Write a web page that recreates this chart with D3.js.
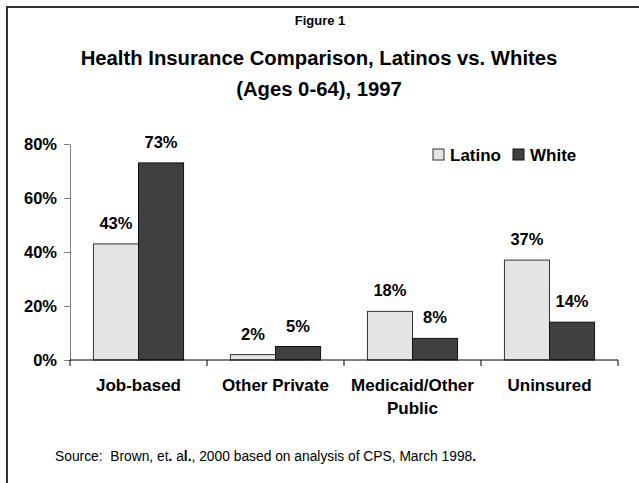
<!DOCTYPE html>
<html><head><meta charset="utf-8">
<script src="https://cdn.jsdelivr.net/npm/d3@7"></script>
<style>body{margin:0;background:#fff}svg{display:block}text{font-family:"Liberation Sans",Arial,sans-serif}</style>
</head><body><svg id="c" width="639" height="483"></svg>
<script>
const categories = ["Job-based","Other Private","Medicaid/Other Public","Uninsured"];
const categoryLines = [["Job-based"],["Other Private"],["Medicaid/Other","Public"],["Uninsured"]];
const series = ["Latino","White"];
const latino = [0.43,0.02,0.18,0.37];
const white = [0.73,0.05,0.08,0.14];
const yTicks = [0,0.2,0.4,0.6,0.8];
const colors = {Latino:"#e4e4e4", White:"#404040"};
const strokes = {Latino:"#333", White:"#111"};

const svg = d3.select("#c");
svg.append("path").attr("d","M7,483 V7 H639").attr("fill","none").attr("stroke","#333").attr("stroke-width",2);

svg.append("text").attr("x",320).attr("y",25).attr("text-anchor","middle")
  .attr("font-size",13).attr("font-weight","bold").text("Figure 1");
svg.append("text").attr("x",319).attr("y",65).attr("text-anchor","middle")
  .attr("font-size",20.3).attr("font-weight","bold").text("Health Insurance Comparison, Latinos vs. Whites");
svg.append("text").attr("x",319).attr("y",96).attr("text-anchor","middle")
  .attr("font-size",20.3).attr("font-weight","bold").text("(Ages 0-64), 1997");

const x = d3.scaleBand().domain(categories).range([70,618]).padding(0);
const xs = d3.scaleBand().domain(series).range([0,x.bandwidth()]).paddingInner(0).paddingOuter(0.52);
const y = d3.scaleLinear().domain([0,0.8]).range([360,144]);

const data = categories.map((c,i)=>({c, vals:[{s:"Latino",v:latino[i]},{s:"White",v:white[i]}]}));

const ya = svg.append("g").attr("transform","translate(70,0)")
  .call(d3.axisLeft(y).tickValues(yTicks).tickFormat(d3.format(".0%")).tickSize(6).tickPadding(7));
ya.select(".domain").attr("stroke","#808080");
ya.selectAll(".tick line").attr("stroke","#808080");
ya.selectAll("text").attr("font-size",16.5).attr("font-weight","bold").attr("fill","#000")
  .attr("font-family","Liberation Sans, Arial, sans-serif");

const g = svg.append("g").selectAll("g").data(data).join("g")
  .attr("transform",d=>`translate(${x(d.c)},0)`);
g.selectAll("rect").data(d=>d.vals).join("rect")
  .attr("x",d=>xs(d.s)).attr("width",xs.bandwidth())
  .attr("y",d=>y(d.v)).attr("height",d=>y(0)-y(d.v))
  .attr("fill",d=>colors[d.s]).attr("stroke",d=>strokes[d.s]).attr("stroke-width",1);
g.selectAll("text").data(d=>d.vals).join("text")
  .attr("x",d=>xs(d.s)+xs.bandwidth()/2).attr("y",d=>y(d.v)-15)
  .attr("text-anchor","middle").attr("font-size",16.5).attr("font-weight","bold")
  .text(d=>d3.format(".0%")(d.v));

const xa = svg.append("g");
xa.append("line").attr("x1",x.range()[0]).attr("x2",x.range()[1]).attr("y1",y(0)).attr("y2",y(0)).attr("stroke","#000");
const tickPos = categories.map(c=>x(c)).concat([x.range()[1]]);
xa.selectAll("line.t").data(tickPos).join("line").attr("class","t")
  .attr("x1",d=>d).attr("x2",d=>d).attr("y1",y(0)).attr("y2",y(0)+6).attr("stroke","#000");
categories.forEach((c,i)=>{
  const t = svg.append("text").attr("text-anchor","middle").attr("font-size",17).attr("font-weight","bold");
  categoryLines[i].forEach((ln,j)=>{
    t.append("tspan").attr("x",x(c)+x.bandwidth()/2).attr("y",391+j*23).text(ln);
  });
});

const lg = svg.append("g");
const legX = [433,513];
series.forEach((s,i)=>{
  lg.append("rect").attr("x",legX[i]).attr("y",149).attr("width",11).attr("height",11)
    .attr("fill",colors[s]).attr("stroke",strokes[s]);
  lg.append("text").attr("x",legX[i]+17).attr("y",161).attr("font-size",17).attr("font-weight","bold").text(s);
});

const src = svg.append("text").attr("x",55).attr("y",461).attr("font-size",13.8).attr("xml:space","preserve");
[["Source:  Brown, et",false],[".",true],[" a",false],["l.",true],[", 2000 based on analysis of CPS, March 1998",false],[".",true]]
  .forEach(([t,b])=>src.append("tspan").attr("font-weight",b?"bold":"normal").text(t));
</script></body></html>
